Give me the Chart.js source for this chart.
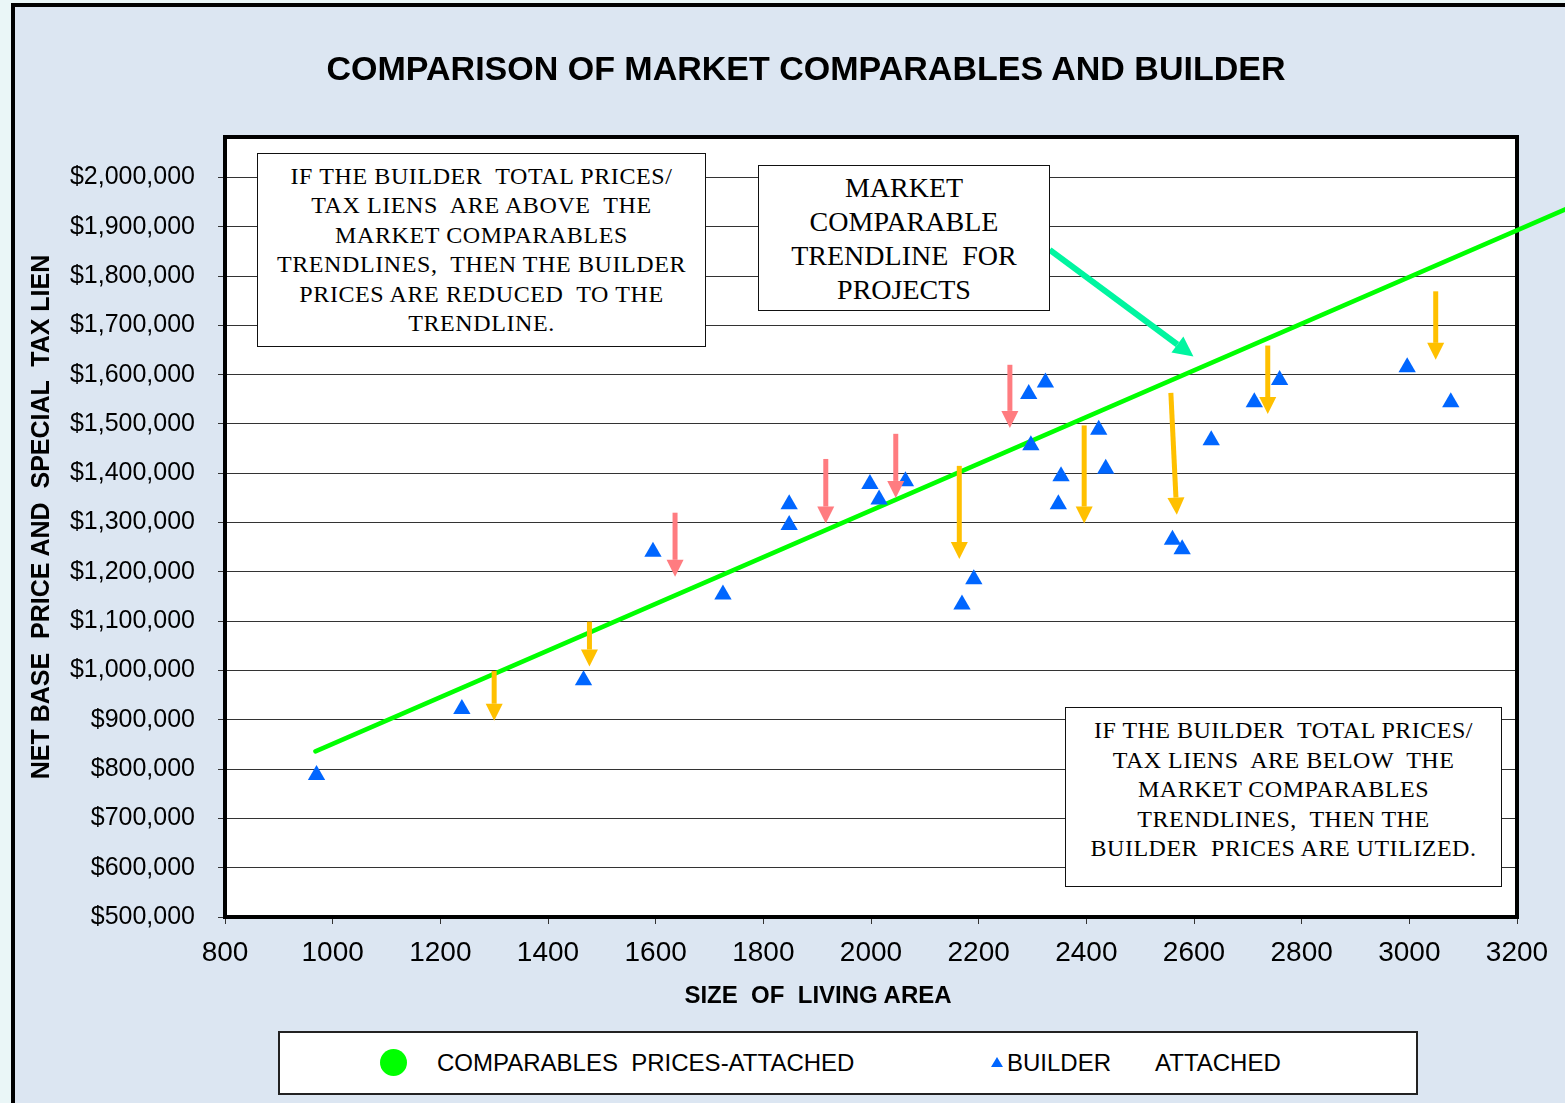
<!DOCTYPE html>
<html>
<head>
<meta charset="utf-8">
<script src="https://cdn.jsdelivr.net/npm/chart.js@4.4.1/dist/chart.umd.min.js"></script>
<style>
  html, body { margin: 0; padding: 0; }
  body { width: 1565px; height: 1103px; overflow: hidden; position: relative; background: #eaf6f7; font-family: "Liberation Sans", Arial, sans-serif; color: #000; }
  #frame { position: absolute; left: 11px; top: 3px; width: 1700px; height: 1300px; border: 4px solid #000; background: #dce6f2; }
  #chart { position: absolute; left: 0; top: 0; }
  .title { position: absolute; left: 0; top: 48px; width: 1612px; line-height: 40px; text-align: center; font-weight: bold; font-size: 34px; white-space: pre; }
  .axis-title { position: absolute; width: 600px; line-height: 30px; text-align: center; font-weight: bold; white-space: pre; }
  #y-title { left: -260px; top: 502px; transform: rotate(-90deg); font-size: 25px; }
  #x-title { left: 518px; top: 980px; font-size: 24px; }
  .note { position: absolute; box-sizing: border-box; background: #fff; border: 1.5px solid #111; font-family: "Liberation Serif", "Times New Roman", serif; text-align: center; white-space: pre; }
  #note-above { left: 257px; top: 153px; width: 449px; height: 194px; font-size: 24px; letter-spacing: 0.6px; line-height: 29.4px; padding-top: 8px; }
  #note-trend { left: 758px; top: 165px; width: 292px; height: 146px; font-size: 28px; line-height: 34px; padding-top: 5px; }
  #note-below { left: 1065px; top: 707px; width: 437px; height: 180px; font-size: 24px; letter-spacing: 0.5px; line-height: 29.5px; padding-top: 8px; }
  #legend { position: absolute; left: 278px; top: 1031px; width: 1140px; height: 64px; box-sizing: border-box; border: 2px solid #222; background: #fff; }
  #legend span { position: absolute; font-size: 24px; line-height: 30px; top: 15px; white-space: pre; }
  #legend .dot { position: absolute; left: 100px; top: 16px; width: 27px; height: 27px; border-radius: 50%; }
  #legend .tri { position: absolute; left: 711px; top: 24px; width: 0; height: 0; border-left: 6px solid transparent; border-right: 6px solid transparent; border-bottom: 10px solid; }
</style>
</head>
<body>
<div id="frame"></div>
<canvas id="chart" width="1565" height="1103"></canvas>
<div class="title">COMPARISON OF MARKET COMPARABLES AND BUILDER</div>
<div class="axis-title" id="y-title">NET BASE  PRICE AND  SPECIAL  TAX LIEN</div>
<div class="axis-title" id="x-title">SIZE  OF  LIVING AREA</div>
<div class="note" id="note-above">IF THE BUILDER  TOTAL PRICES/
TAX LIENS  ARE ABOVE  THE
MARKET COMPARABLES
TRENDLINES,  THEN THE BUILDER
PRICES ARE REDUCED  TO THE
TRENDLINE.</div>
<div class="note" id="note-trend">MARKET
COMPARABLE
TRENDLINE  FOR
PROJECTS</div>
<div class="note" id="note-below">IF THE BUILDER  TOTAL PRICES/
TAX LIENS  ARE BELOW  THE
MARKET COMPARABLES
TRENDLINES,  THEN THE
BUILDER  PRICES ARE UTILIZED.</div>
<div id="legend"></div>
<script>
// axis ticks
const xTickValues = [800, 1000, 1200, 1400, 1600, 1800, 2000, 2200, 2400, 2600, 2800, 3000, 3200];
const yTickValues = [500000, 600000, 700000, 800000, 900000, 1000000, 1100000, 1200000,
  1300000, 1400000, 1500000, 1600000, 1700000, 1800000, 1900000, 2000000];

// builder attached (size of living area, price)
const builderSize = [970, 1240, 1466, 1595, 1725, 1848, 1848, 1998, 2015, 2064, 2169, 2191, 2293,
  2324, 2297, 2353, 2348, 2423, 2436, 2560, 2578, 2632, 2712, 2759, 2996, 3077];
const builderPrice = [788000, 922000, 980000, 1241000, 1154000, 1337000, 1295000, 1378000, 1347000,
  1384000, 1134000, 1185000, 1561000, 1584000, 1457000, 1394000, 1337000, 1488000, 1409000,
  1265000, 1246000, 1467000, 1544000, 1589000, 1615000, 1544000];

// comparables trendline end points
const trendSize = [968, 3300];
const trendPrice = [836000, 1940000];

// arrows: [size from, price from, size to, price to]
const reduceArrows = [
  [1636, 1320000, 1636, 1190000],
  [1916, 1429000, 1916, 1298000],
  [2046, 1480000, 2046, 1350000],
  [2258, 1620000, 2258, 1492000],
];
const utilizeArrows = [
  [1300, 999000, 1300, 898000],
  [1477, 1099000, 1477, 1008000],
  [2164, 1415000, 2164, 1226000],
  [2396, 1497000, 2396, 1298000],
  [2557, 1563000, 2568, 1316000],
  [2737, 1659000, 2737, 1520000],
  [3049, 1769000, 3049, 1630000],
];
const pointerArrows = [
  [2332, 1853000, 2599, 1637000],
];

const comparablesLabel = "COMPARABLES  PRICES-ATTACHED";
const builderLabel = "BUILDER";
const builderLabel2 = "ATTACHED";

const GREEN = "#00ff00";
const BLUE = "#0066ff";

const formatMoney = (v) => "$" + String(v).replace(/\B(?=(\d{3})+(?!\d))/g, ",");

const drawArrow = (ctx, x0, y0, x1, y1, color, shaft, headLen, headW) => {
  const ang = Math.atan2(y1 - y0, x1 - x0);
  const bx = x1 - Math.cos(ang) * headLen;
  const by = y1 - Math.sin(ang) * headLen;
  ctx.strokeStyle = color;
  ctx.lineWidth = shaft;
  ctx.lineCap = "butt";
  ctx.beginPath();
  ctx.moveTo(x0, y0);
  ctx.lineTo(bx, by);
  ctx.stroke();
  ctx.fillStyle = color;
  ctx.beginPath();
  ctx.moveTo(x1, y1);
  ctx.lineTo(bx + Math.sin(ang) * headW / 2, by - Math.cos(ang) * headW / 2);
  ctx.lineTo(bx - Math.sin(ang) * headW / 2, by + Math.cos(ang) * headW / 2);
  ctx.closePath();
  ctx.fill();
};

const plotFrame = {
  id: "plotFrame",
  beforeDraw(chart) {
    const { ctx, chartArea: a } = chart;
    ctx.save();
    ctx.fillStyle = "#fff";
    ctx.fillRect(a.left, a.top, a.width, a.height);
    ctx.restore();
  },
  beforeDatasetsDraw(chart) {
    const { ctx, chartArea: a } = chart;
    ctx.save();
    ctx.strokeStyle = "#000";
    ctx.lineWidth = 4;
    ctx.strokeRect(a.left, a.top, a.width, a.height);
    ctx.restore();
  },
};

const arrows = {
  id: "arrows",
  afterDatasetsDraw(chart) {
    const { ctx, scales: { x, y } } = chart;
    const draw = (list, color, shaft, headLen, headW) => {
      list.forEach(([sx0, py0, sx1, py1]) => {
        drawArrow(ctx,
          x.getPixelForValue(sx0), y.getPixelForValue(py0),
          x.getPixelForValue(sx1), y.getPixelForValue(py1),
          color, shaft, headLen, headW);
      });
    };
    ctx.save();
    draw(reduceArrows, "#ff7c80", 5, 17, 17);
    draw(utilizeArrows, "#ffc000", 5, 17, 17);
    draw(pointerArrows, "#00f5a0", 6, 20, 20);
    ctx.restore();
  },
};

const chart = new Chart(document.getElementById("chart").getContext("2d"), {
  type: "scatter",
  data: {
    datasets: [
      {
        label: builderLabel,
        data: builderSize.map((s, i) => ({ x: s, y: builderPrice[i] })),
        pointStyle: "triangle",
        pointRadius: 10,
        backgroundColor: BLUE,
        borderColor: BLUE,
        borderWidth: 0,
        order: 0,
      },
      {
        label: comparablesLabel,
        data: trendSize.map((s, i) => ({ x: s, y: trendPrice[i] })),
        showLine: true,
        pointRadius: 0,
        borderColor: GREEN,
        backgroundColor: GREEN,
        borderWidth: 4.5,
        borderCapStyle: "round",
        clip: false,
        order: 1,
      },
    ],
  },
  options: {
    responsive: false,
    animation: false,
    devicePixelRatio: 1,
    layout: { padding: { left: 0, right: 48, top: 137, bottom: 126 } },
    plugins: {
      legend: { display: false },
      title: { display: false },
      tooltip: { enabled: false },
    },
    scales: {
      x: {
        type: "linear",
        min: 800,
        max: 3200,
        afterBuildTicks: (s) => { s.ticks = xTickValues.map((v) => ({ value: v })); },
        afterFit: (s) => { s.height = 60; },
        ticks: {
          font: { family: "Liberation Sans", size: 28 },
          color: "#000",
          padding: 12,
          maxRotation: 0,
          autoSkip: false,
          callback: (v) => String(v),
        },
        grid: { drawOnChartArea: false, color: "#333", tickLength: 7 },
        border: { display: false },
      },
      y: {
        min: 500000,
        max: 2082000,
        afterBuildTicks: (s) => { s.ticks = yTickValues.map((v) => ({ value: v })); },
        afterFit: (s) => { s.width = 225; },
        ticks: {
          font: { family: "Liberation Sans", size: 25 },
          color: "#000",
          padding: 23,
          autoSkip: false,
          callback: (v) => formatMoney(v),
        },
        grid: { color: "#333", lineWidth: 1, tickLength: 7 },
        border: { display: false },
      },
    },
  },
  plugins: [plotFrame, arrows],
});

// legend built from the datasets
const legend = document.getElementById("legend");
const trendSet = chart.data.datasets[1];
const builderSet = chart.data.datasets[0];
legend.innerHTML =
  `<div class="dot" style="background:${trendSet.borderColor}"></div>` +
  `<span style="left:157px">${trendSet.label}</span>` +
  `<div class="tri" style="border-bottom-color:${builderSet.backgroundColor}"></div>` +
  `<span style="left:727px">${builderSet.label}</span>` +
  `<span style="left:875px">${builderLabel2}</span>`;
</script>
</body>
</html>
